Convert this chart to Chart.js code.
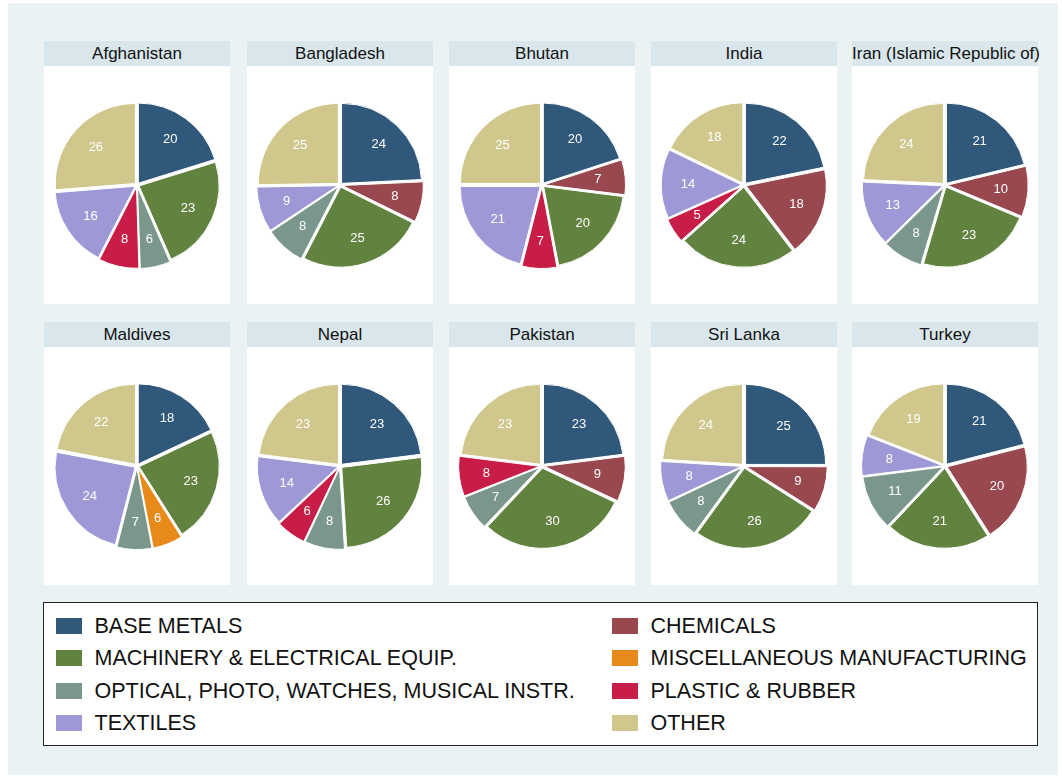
<!DOCTYPE html>
<html>
<head>
<meta charset="utf-8">
<script src="https://cdn.jsdelivr.net/npm/chart.js@4/dist/chart.umd.min.js"></script>
<style>
  html, body { margin: 0; padding: 0; background: #ffffff; }
  body { width: 1062px; height: 778px; position: relative; overflow: hidden; font-family: "Liberation Sans", Arial, sans-serif; }
  #bg { position: absolute; left: 8px; top: 3px; width: 1050px; height: 772px; background: #eaf2f3; }
  .panel { position: absolute; width: 186px; }
  .ptitle { height: 25px; line-height: 25px; background: #d9e6eb; text-align: center; font-size: 17px; color: #111; white-space: nowrap; overflow: visible; }
  .pbody { background: #ffffff; height: 238px; }
  .pbody canvas { display: block; }
  #legend { position: absolute; left: 43px; top: 602px; width: 993px; height: 142px; border: 1.5px solid #222; background: #fff; }
  .li { position: absolute; height: 32px; line-height: 32px; font-size: 21.5px; color: #111; white-space: nowrap; }
  .sw { position: absolute; width: 26px; height: 16px; top: 8px; left: 0; }
  .lt { position: absolute; left: 39px; top: 0; }
</style>
</head>
<body>
<div id="bg"></div>
<div id="panels"></div>
<div id="legend"></div>
<script>
// ---- Data ----
const categories = ["BASE METALS", "CHEMICALS", "MACHINERY & ELECTRICAL EQUIP.", "MISCELLANEOUS MANUFACTURING",
                    "OPTICAL, PHOTO, WATCHES, MUSICAL INSTR.", "PLASTIC & RUBBER", "TEXTILES", "OTHER"];
const colors = ["#2f587a", "#9a4850", "#62823f", "#e88a1a", "#7b978b", "#c81d47", "#9e98d6", "#cfc78b"];
const countries = ["Afghanistan", "Bangladesh", "Bhutan", "India", "Iran (Islamic Republic of)",
                   "Maldives", "Nepal", "Pakistan", "Sri Lanka", "Turkey"];
// order: base metals, chemicals, machinery, misc, optical, plastic, textiles, other
const afghanistan = [20, 0, 23, 0, 6, 8, 16, 26];
const bangladesh  = [24, 8, 25, 0, 8, 0, 9, 25];
const bhutan      = [20, 7, 20, 0, 0, 7, 21, 25];
const india       = [22, 18, 24, 0, 0, 5, 14, 18];
const iran        = [21, 10, 23, 0, 8, 0, 13, 24];
const maldives    = [18, 0, 23, 6, 7, 0, 24, 22];
const nepal       = [23, 0, 26, 0, 8, 6, 14, 23];
const pakistan    = [23, 9, 30, 0, 7, 8, 0, 23];
const sriLanka    = [25, 9, 26, 0, 8, 0, 8, 24];
const turkey      = [21, 20, 21, 0, 11, 0, 8, 19];
const seriesValues = [afghanistan, bangladesh, bhutan, india, iran, maldives, nepal, pakistan, sriLanka, turkey];
// legend layout: left column then right column
const legendLeft = [0, 2, 4, 6];
const legendRight = [1, 3, 5, 7];

// ---- Label plugin ----
const sliceLabels = {
  id: 'sliceLabels',
  afterDatasetsDraw(chart) {
    const ctx = chart.ctx;
    const meta = chart.getDatasetMeta(0);
    const vals = chart.data.datasets[0].data;
    ctx.save();
    ctx.font = '13px "Liberation Sans", Arial, sans-serif';
    ctx.fillStyle = '#ffffff';
    ctx.textAlign = 'center';
    ctx.textBaseline = 'middle';
    meta.data.forEach((arc, i) => {
      if (!vals[i]) return;
      const p = arc.getProps(['x', 'y', 'startAngle', 'endAngle', 'outerRadius'], true);
      const mid = (p.startAngle + p.endAngle) / 2;
      const r = p.outerRadius * 0.7;
      ctx.fillText(String(vals[i]), p.x + Math.cos(mid) * r, p.y + Math.sin(mid) * r);
    });
    ctx.restore();
  }
};

// ---- Panels ----
const panelX = [44, 247, 449, 651, 852];
const panelY = [41, 322];
const container = document.getElementById('panels');
countries.forEach((name, idx) => {
  const col = idx % 5, row = Math.floor(idx / 5);
  const panel = document.createElement('div');
  panel.className = 'panel';
  panel.style.left = panelX[col] + 'px';
  panel.style.top = panelY[row] + 'px';
  const t = document.createElement('div');
  t.className = 'ptitle';
  t.textContent = name;
  const b = document.createElement('div');
  b.className = 'pbody';
  const c = document.createElement('canvas');
  c.width = 186; c.height = 238;
  c.style.width = '186px'; c.style.height = '238px';
  b.appendChild(c);
  panel.appendChild(t);
  panel.appendChild(b);
  container.appendChild(panel);
  new Chart(c, {
    type: 'pie',
    data: {
      labels: categories,
      datasets: [{
        data: seriesValues[idx],
        backgroundColor: colors,
        borderColor: '#ffffff',
        borderWidth: 1,
        offset: 9,
        radius: 80
      }]
    },
    options: {
      responsive: false,
      animation: false,
      events: [],
      layout: { padding: 0 },
      plugins: { legend: { display: false }, tooltip: { enabled: false } }
    },
    plugins: [sliceLabels]
  });
});

// ---- Legend ----
const legend = document.getElementById('legend');
function addItem(ci, x, rowIdx) {
  const d = document.createElement('div');
  d.className = 'li';
  d.style.left = x + 'px';
  d.style.top = (7 + rowIdx * 32.3) + 'px';
  const s = document.createElement('div');
  s.className = 'sw';
  s.style.background = colors[ci];
  const t = document.createElement('div');
  t.className = 'lt';
  t.textContent = categories[ci];
  d.appendChild(s); d.appendChild(t);
  legend.appendChild(d);
}
legendLeft.forEach((ci, r) => addItem(ci, 11.5, r));
legendRight.forEach((ci, r) => addItem(ci, 567.5, r));
</script>
</body>
</html>
